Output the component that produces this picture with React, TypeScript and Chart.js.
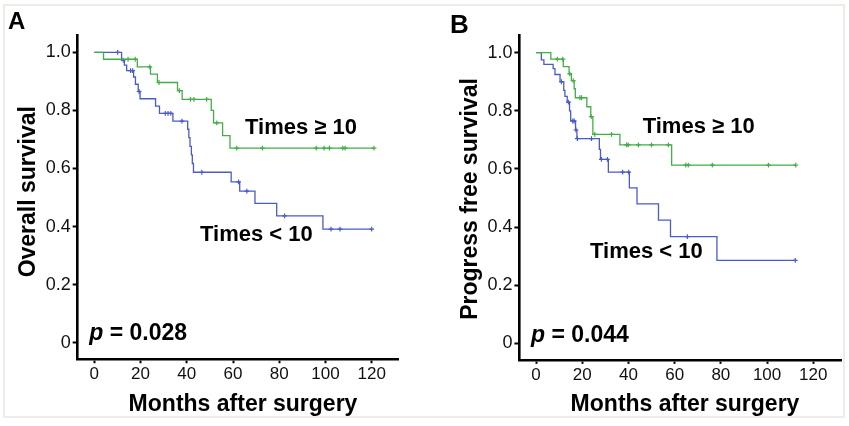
import React, { useEffect, useRef } from 'react';
import { Chart, registerables } from 'chart.js';

Chart.register(...registerables);

// ---------- data ----------
const xTicks = [0, 20, 40, 60, 80, 100, 120];
const yTicks = [0, 0.2, 0.4, 0.6, 0.8, 1.0];

// Panel A: overall survival, Times >= 10
const osGeTimes = [0, 4.0, 18.6, 24.3, 27.3, 36.0, 38.0, 50.6, 51.6, 55.5, 58.7, 121.0];
const osGeSurv = [1.0, 0.976, 0.95, 0.925, 0.896, 0.868, 0.838, 0.8, 0.757, 0.713, 0.67, 0.67];
const osGeCensored = [14.6, 17.7, 24.0, 28.0, 36.8, 41.6, 43.1, 48.6, 53.0, 61.6, 72.7, 96.0, 99.4, 101.7, 107.5, 108.5, 121.0];

// Panel A: overall survival, Times < 10
const osLtTimes = [0, 11.8, 13.0, 14.0, 17.0, 17.8, 19.0, 19.8, 26.5, 28.2, 34.0, 40.4, 40.9, 41.4, 42.0, 42.4, 42.9, 59.2, 62.9, 69.5, 78.9, 98.9, 120.0];
const osLtSurv = [1.0, 0.973, 0.956, 0.937, 0.915, 0.89, 0.865, 0.84, 0.815, 0.79, 0.763, 0.735, 0.706, 0.676, 0.647, 0.617, 0.587, 0.554, 0.522, 0.48, 0.437, 0.391, 0.391];
const osLtCensored = [10.1, 12.5, 15.7, 16.6, 19.4, 30.7, 31.9, 33.1, 37.9, 46.5, 62.4, 66.0, 82.3, 102.4, 106.3, 120.0];

// Panel B: progress free survival, Times >= 10
const pfsGeTimes = [0, 6.4, 11.8, 14.3, 15.3, 16.5, 17.0, 22.0, 23.7, 24.6, 36.3, 58.7, 112.4];
const pfsGeSurv = [1.0, 0.978, 0.952, 0.927, 0.904, 0.876, 0.845, 0.814, 0.78, 0.719, 0.683, 0.613, 0.613];
const pfsGeCensored = [9.2, 11.6, 14.6, 16.1, 19.0, 19.7, 23.9, 25.4, 32.7, 39.2, 39.9, 44.3, 50.0, 57.3, 64.8, 65.9, 76.3, 100.6, 112.4];

// Panel B: progress free survival, Times < 10
const pfsLtTimes = [0, 2.3, 3.4, 7.4, 8.2, 10.4, 12.0, 12.5, 13.5, 14.5, 15.0, 17.1, 17.7, 27.4, 27.9, 31.3, 40.4, 43.7, 53.0, 58.2, 78.3, 112.2];
const pfsLtSurv = [1.0, 0.975, 0.96, 0.945, 0.925, 0.9, 0.87, 0.85, 0.83, 0.8, 0.765, 0.734, 0.704, 0.667, 0.633, 0.589, 0.535, 0.48, 0.424, 0.367, 0.285, 0.285];
const pfsLtCensored = [11.0, 14.0, 15.9, 16.5, 17.3, 17.9, 24.0, 28.3, 30.9, 37.5, 40.1, 65.5, 112.2];

// ---------- styling ----------
const GREEN = '#43ad47';
const BLUE = '#4a5bc6';
const FONT = '"Liberation Sans", Arial, Helvetica, sans-serif';
const H = 426;

function stepPoints(times: number[], surv: number[]) {
  return times.map((t, i) => ({ x: t, y: surv[i] }));
}
function censorPoints(cens: number[], times: number[], surv: number[]) {
  return cens.map((c) => {
    let y = surv[0];
    for (let i = 0; i < times.length; i++) if (times[i] <= c) y = surv[i];
    return { x: c, y };
  });
}

type Part = { t: string; italic?: boolean };
type Txt = { parts: Part[]; x: number; y: number; size: number; align?: 'left' | 'center'; rot?: number };

const textPlugin = {
  id: 'panelText',
  afterDraw(chart: any, _args: any, opts: any) {
    const ctx = chart.ctx as CanvasRenderingContext2D;
    for (const item of (opts.items || []) as Txt[]) {
      ctx.save();
      ctx.fillStyle = '#000';
      ctx.textBaseline = 'alphabetic';
      ctx.textAlign = 'left';
      ctx.translate(item.x, item.y);
      if (item.rot) ctx.rotate(item.rot);
      const fonts = item.parts.map((p) => `${p.italic ? 'italic ' : ''}bold ${item.size}px ${FONT}`);
      const widths = item.parts.map((p, i) => {
        ctx.font = fonts[i];
        return ctx.measureText(p.t).width;
      });
      const total = widths.reduce((a, b) => a + b, 0);
      let cx = item.align === 'center' ? -total / 2 : 0;
      item.parts.forEach((p, i) => {
        ctx.font = fonts[i];
        ctx.fillText(p.t, cx, 0);
        cx += widths[i];
      });
      ctx.restore();
    }
  },
};

type PanelProps = {
  left: number;
  width: number;
  xMin: number;
  xMax: number;
  yMin: number;
  yMax: number;
  pad: { left: number; right: number; top: number; bottom: number };
  ge: { times: number[]; surv: number[]; cens: number[] };
  lt: { times: number[]; surv: number[]; cens: number[] };
  texts: Txt[];
};

function KMPanel(props: PanelProps) {
  const ref = useRef<HTMLCanvasElement>(null);
  useEffect(() => {
    const lineDs = (s: { times: number[]; surv: number[] }, color: string, label: string) => ({
      type: 'scatter' as const,
      label,
      data: stepPoints(s.times, s.surv),
      showLine: true,
      stepped: 'before' as const,
      borderColor: color,
      backgroundColor: color,
      borderWidth: 1.3,
      pointRadius: 0,
      pointHoverRadius: 0,
    });
    const censDs = (s: { times: number[]; surv: number[]; cens: number[] }, color: string, label: string) => ({
      type: 'scatter' as const,
      label,
      data: censorPoints(s.cens, s.times, s.surv),
      showLine: false,
      pointStyle: 'cross' as const,
      pointRadius: 2.4,
      pointBorderWidth: 1.2,
      borderColor: color,
      backgroundColor: color,
    });
    const tickFont = { family: FONT, size: 17 };
    const chart = new Chart(ref.current as HTMLCanvasElement, {
      type: 'scatter',
      data: {
        datasets: [
          lineDs(props.ge, GREEN, 'Times ≥ 10'),
          lineDs(props.lt, BLUE, 'Times < 10'),
          censDs(props.ge, GREEN, 'Times ≥ 10 censored'),
          censDs(props.lt, BLUE, 'Times < 10 censored'),
        ],
      },
      options: {
        responsive: false,
        animation: false,
        devicePixelRatio: 1,
        layout: { padding: props.pad },
        plugins: {
          legend: { display: false },
          tooltip: { enabled: false },
          // @ts-ignore
          panelText: { items: props.texts },
        },
        scales: {
          x: {
            type: 'linear',
            min: props.xMin,
            max: props.xMax,
            afterBuildTicks: (s: any) => {
              s.ticks = xTicks.map((v) => ({ value: v }));
            },
            afterFit: (s: any) => {
              s.height = 60;
            },
            ticks: {
              font: { ...tickFont, size: 17 },
              color: '#111',
              padding: 1,
              maxRotation: 0,
              autoSkip: false,
              callback: (v: any) => String(v),
            },
            grid: {
              display: true,
              drawOnChartArea: false,
              drawTicks: true,
              tickLength: 4,
              tickWidth: 2,
              tickColor: '#000',
            },
            border: { display: true, color: '#000', width: 2.6 },
          },
          y: {
            type: 'linear',
            min: props.yMin,
            max: props.yMax,
            afterBuildTicks: (s: any) => {
              s.ticks = yTicks.map((v) => ({ value: v }));
            },
            afterFit: (s: any) => {
              s.width = 70;
            },
            ticks: {
              font: { ...tickFont, size: 18 },
              color: '#111',
              padding: 2,
              autoSkip: false,
              callback: (v: any) => (v === 0 ? '0' : Number(v).toFixed(1)),
            },
            grid: {
              display: true,
              drawOnChartArea: false,
              drawTicks: true,
              tickLength: 5,
              tickWidth: 2,
              tickColor: '#000',
            },
            border: { display: true, color: '#000', width: 2.6 },
          },
        },
      },
      plugins: [textPlugin],
    } as any);
    return () => chart.destroy();
  }, []);
  return (
    <canvas
      ref={ref}
      width={props.width}
      height={H}
      style={{ position: 'absolute', left: props.left, top: 0, width: props.width, height: H }}
    />
  );
}

export default function App() {
  const textsA: Txt[] = [
    { parts: [{ t: 'A' }], x: 8, y: 29, size: 24 },
    { parts: [{ t: 'Overall survival' }], x: 35, y: 191.7, size: 23, align: 'center', rot: -Math.PI / 2 },
    { parts: [{ t: 'Months after surgery' }], x: 243, y: 411, size: 23, align: 'center' },
    { parts: [{ t: 'Times ≥ 10' }], x: 245, y: 133.5, size: 22 },
    { parts: [{ t: 'Times < 10' }], x: 200, y: 240.7, size: 22 },
    { parts: [{ t: 'p', italic: true }, { t: ' = 0.028' }], x: 89.3, y: 340, size: 23 },
  ];
  const textsB: Txt[] = [
    { parts: [{ t: 'B' }], x: 30, y: 32.7, size: 26 },
    { parts: [{ t: 'Progress free survival' }], x: 56.7, y: 199, size: 23, align: 'center', rot: -Math.PI / 2 },
    { parts: [{ t: 'Months after surgery' }], x: 265, y: 411, size: 23, align: 'center' },
    { parts: [{ t: 'Times ≥ 10' }], x: 222.7, y: 132.7, size: 22 },
    { parts: [{ t: 'Times < 10' }], x: 170, y: 258.3, size: 22 },
    { parts: [{ t: 'p', italic: true }, { t: ' = 0.044' }], x: 111, y: 341.7, size: 23 },
  ];
  return (
    <div style={{ position: 'absolute', left: 0, top: 0, width: 849, height: H, background: '#fff', overflow: 'hidden' }}>
      <div
        style={{
          position: 'absolute',
          left: 3,
          top: 4,
          width: 842,
          height: 414,
          border: '2px solid #f2eae7',
          boxSizing: 'border-box',
        }}
      />
      <KMPanel
        left={0}
        width={420}
        xMin={-7.2}
        xMax={131.4}
        yMin={-0.057}
        yMax={1.06}
        pad={{ left: 7.66, right: 21.95, top: 34.88, bottom: 6.75 }}
        ge={{ times: osGeTimes, surv: osGeSurv, cens: osGeCensored }}
        lt={{ times: osLtTimes, surv: osLtSurv, cens: osLtCensored }}
        texts={textsA}
      />
      <KMPanel
        left={420}
        width={429}
        xMin={-7.2}
        xMax={132}
        yMin={-0.057}
        yMax={1.06}
        pad={{ left: 29.4, right: 8.0, top: 35.26, bottom: 6.14 }}
        ge={{ times: pfsGeTimes, surv: pfsGeSurv, cens: pfsGeCensored }}
        lt={{ times: pfsLtTimes, surv: pfsLtSurv, cens: pfsLtCensored }}
        texts={textsB}
      />
    </div>
  );
}
